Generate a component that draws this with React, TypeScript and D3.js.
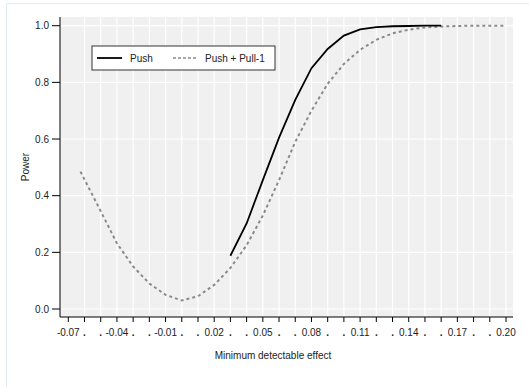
import React from "react";
import * as d3 from "d3";

const xTicks = d3.range(28).map((i) => Math.round((-0.07 + i * 0.01) * 100) / 100);
const xTickLabels = ["-0.07", ".", ".", "-0.04", ".", ".", "-0.01", ".", ".", "0.02", ".", ".", "0.05", ".", ".", "0.08", ".", ".", "0.11", ".", ".", "0.14", ".", ".", "0.17", ".", ".", "0.20"];
const yTicks = [0, 0.2, 0.4, 0.6, 0.8, 1.0];
const yTickLabels = ["0.0", "0.2", "0.4", "0.6", "0.8", "1.0"];

const pushX = [0.03, 0.04, 0.05, 0.06, 0.07, 0.08, 0.09, 0.10, 0.11, 0.12, 0.13, 0.14, 0.15, 0.16];
const pushY = [0.188, 0.302, 0.455, 0.605, 0.738, 0.85, 0.918, 0.965, 0.987, 0.995, 0.998, 0.999, 1.0, 1.0];

const pullX = [-0.0625, -0.05, -0.04, -0.03, -0.02, -0.01, 0.0, 0.01, 0.02, 0.03, 0.04, 0.05, 0.06, 0.07, 0.08, 0.09, 0.10, 0.11, 0.12, 0.13, 0.14, 0.15, 0.16, 0.17, 0.18, 0.19, 0.20];
const pullY = [0.485, 0.345, 0.232, 0.15, 0.09, 0.05, 0.03, 0.045, 0.085, 0.145, 0.225, 0.33, 0.455, 0.59, 0.70, 0.795, 0.865, 0.915, 0.95, 0.973, 0.986, 0.994, 0.997, 0.999, 1.0, 1.0, 1.0];

const seriesNames = ["Push", "Push + Pull-1"];

export default function App() {
  const W = 529, H = 387;
  const left = 60, right = 513, top = 17, bottom = 317;
  const x = d3.scaleLinear().domain([-0.07, 0.2]).range([68.3, 506]);
  const y = d3.scaleLinear().domain([0, 1]).range([309, 25.7]);
  const line = d3.line<[number, number]>().x((d) => x(d[0])).y((d) => y(d[1])).curve(d3.curveLinear);
  const pushPath = line(pushX.map((v, i) => [v, pushY[i]]) as [number, number][]) || "";
  const pullPath = line(pullX.map((v, i) => [v, pullY[i]]) as [number, number][]) || "";
  const font = "'Liberation Sans', Arial, sans-serif";
  return (
    <svg width={W} height={H} style={{ position: "absolute", left: 0, top: 0 }} fontFamily={font}>
      <rect x={0} y={0} width={W} height={H} fill="#ffffff" />
      <rect x={6.5} y={3.5} width={W - 6} height={H - 3} fill="#ffffff" stroke="#e4ebf0" strokeWidth={1} />
      <rect x={left} y={top} width={right - left} height={bottom - top} fill="#f0f0f0" />
      {xTicks.slice(1).map((t, i) => (
        <line key={"gx" + i} x1={x(t)} x2={x(t)} y1={top} y2={bottom} stroke="#ffffff" strokeWidth={1.2} />
      ))}
      {yTicks.map((t, i) => (
        <line key={"gy" + i} x1={left} x2={right} y1={y(t)} y2={y(t)} stroke="#ffffff" strokeWidth={1.2} />
      ))}
      <path d={pullPath} fill="none" stroke="#8a8a8a" strokeWidth={2} strokeDasharray="3,3" />
      <path d={pushPath} fill="none" stroke="#000000" strokeWidth={1.8} />
      <line x1={left} x2={left} y1={top} y2={bottom} stroke="#000" strokeWidth={1} />
      <line x1={left} x2={right} y1={bottom} y2={bottom} stroke="#000" strokeWidth={1} />
      {yTicks.map((t, i) => (
        <g key={"yt" + i}>
          <line x1={52} x2={left} y1={y(t)} y2={y(t)} stroke="#000" />
          <text x={49} y={y(t)} dy="0.35em" textAnchor="end" fontSize={10} fill="#222">{yTickLabels[i]}</text>
        </g>
      ))}
      {xTicks.map((t, i) => (
        <g key={"xt" + i}>
          <line x1={x(t)} x2={x(t)} y1={bottom} y2={bottom + 5} stroke="#000" />
          <text x={x(t)} y={336} textAnchor="middle" fontSize={10} fill="#222" fontWeight={xTickLabels[i] === "." ? "bold" : "normal"}>{xTickLabels[i]}</text>
        </g>
      ))}
      <text x={273} y={359} textAnchor="middle" fontSize={10} fill="#222">Minimum detectable effect</text>
      <text transform="translate(29,167) rotate(-90)" textAnchor="middle" fontSize={10} fill="#222">Power</text>
      <rect x={92} y={46} width={183} height={24} fill="#ffffff" stroke="#333" strokeWidth={1} />
      <line x1={97} x2={122} y1={58} y2={58} stroke="#000" strokeWidth={1.8} />
      <text x={130} y={61.5} fontSize={10} fill="#222">{seriesNames[0]}</text>
      <line x1={173} x2={198} y1={58} y2={58} stroke="#8a8a8a" strokeWidth={1.5} strokeDasharray="3,2" />
      <text x={205} y={61.5} fontSize={10} fill="#222">{seriesNames[1]}</text>
    </svg>
  );
}
